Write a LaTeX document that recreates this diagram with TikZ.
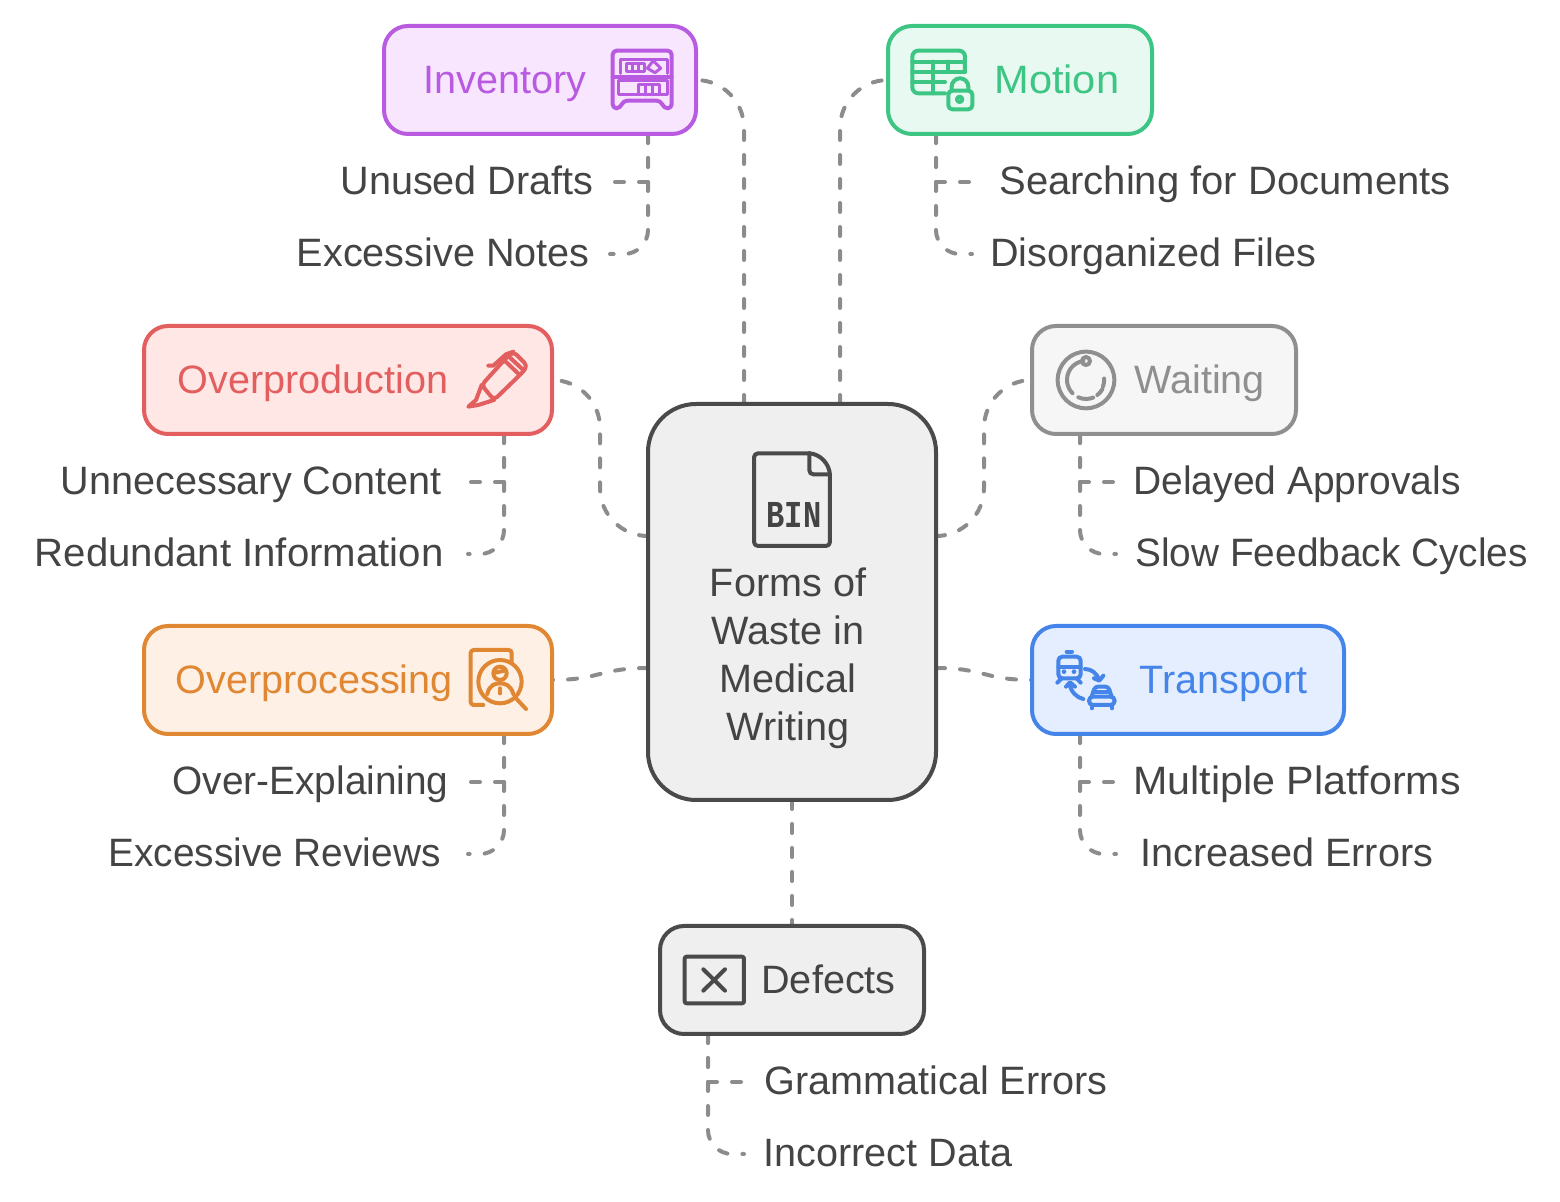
\documentclass[tikz,border=0pt]{standalone}
\usepackage{fontspec}
\setmainfont{Liberation Sans}
\setmonofont{Liberation Mono}
\usetikzlibrary{backgrounds}
\definecolor{inkGrey}{HTML}{444444}
\definecolor{connGrey}{HTML}{8C8C8C}
\definecolor{invLine}{HTML}{B95BE0}
\definecolor{invFill}{HTML}{F7E6FE}
\definecolor{motLine}{HTML}{3CC583}
\definecolor{motFill}{HTML}{E7F9F1}
\definecolor{ovpLine}{HTML}{E35F5F}
\definecolor{ovpFill}{HTML}{FEE7E4}
\definecolor{waiLine}{HTML}{8F8F8F}
\definecolor{waiFill}{HTML}{F6F6F6}
\definecolor{ovcLine}{HTML}{E08733}
\definecolor{ovcFill}{HTML}{FEF0E4}
\definecolor{traLine}{HTML}{4584E8}
\definecolor{traFill}{HTML}{E4EEFE}
\definecolor{defLine}{HTML}{4A4A4A}
\definecolor{defFill}{HTML}{EFEFEF}
\tikzset{
    box/.style={draw=#1Line, fill=#1Fill, line width=2pt, rounded corners=12pt, minimum height=54pt, outer sep=0pt, inner sep=0pt},
    boxtext/.style={font=\fontsize{19.8pt}{24pt}\selectfont, inner sep=0pt, text=#1},
    subtext/.style={font=\fontsize{19.8pt}{24pt}\selectfont, inner sep=0pt, text=inkGrey},
    conn/.style={draw=connGrey, line width=2pt, line cap=round, dash pattern=on 4.5pt off 7.5pt},
    icon/.style={draw=#1Line, line width=2pt, line cap=round, line join=round}
}

\begin{document}
\begin{tikzpicture}[x=.5pt, y=-.5pt]
    \useasboundingbox (0, 0) rectangle (1560, 1202);

    % hub and the seven boxes
    \node[box=def, rounded corners=24pt, minimum width=144pt, minimum height=198pt] (hub) at (792, 602) {};
    \node[box=inv, minimum width=156pt] (inventory) at (540, 80) {};
    \node[box=mot, minimum width=132pt] (motion) at (1020, 80) {};
    \node[box=ovp, minimum width=204pt] (overproduction) at (348, 380) {};
    \node[box=wai, minimum width=132pt] (waiting) at (1164, 380) {};
    \node[box=ovc, minimum width=204pt] (overprocessing) at (348, 680) {};
    \node[box=tra, minimum width=156pt] (transport) at (1188, 680) {};
    \node[box=def, minimum width=132pt] (defects) at (792, 980) {};

    % box titles
    \node[boxtext=invLine, anchor=base west] (inventoryText) at (423, 94) {Inventory};
    \node[boxtext=motLine, anchor=base west, xscale=1.05] (motionText) at (994, 94) {Motion};
    \node[boxtext=ovpLine, anchor=base west] (overproductionText) at (177, 394) {Overproduction};
    \node[boxtext=waiLine, anchor=base west] (waitingText) at (1134, 394) {Waiting};
    \node[boxtext=ovcLine, anchor=base west] (overprocessingText) at (175, 694) {Overprocessing};
    \node[boxtext=traLine, anchor=base west] (transportText) at (1139, 694) {Transport};
    \node[boxtext=inkGrey, anchor=base west] (defectsText) at (761, 994) {Defects};
    \node[boxtext=inkGrey, align=center] (hubText) at (788, 658) {Forms of\\Waste in\\Medical\\Writing};

    % items under each box
    \node[subtext, anchor=base east] (unused) at (594, 195) {Unused Drafts};
    \node[subtext, anchor=base east] (notes) at (590, 267) {Excessive Notes};
    \node[subtext, anchor=base west, xscale=1.01] (searching) at (999, 195) {Searching for Documents};
    \node[subtext, anchor=base west] (files) at (990, 267) {Disorganized Files};
    \node[subtext, anchor=base east] (content) at (442, 495) {Unnecessary Content};
    \node[subtext, anchor=base east, xscale=1.015] (information) at (444, 567) {Redundant Information};
    \node[subtext, anchor=base west, xscale=.985] (approvals) at (1133, 495) {Delayed Approvals};
    \node[subtext, anchor=base west, xscale=.98] (feedback) at (1135, 567) {Slow Feedback Cycles};
    \node[subtext, anchor=base east, xscale=.98] (explaining) at (449, 795) {Over-Explaining};
    \node[subtext, anchor=base east, xscale=.98] (reviews) at (441, 867) {Excessive Reviews};
    \node[subtext, anchor=base west, xscale=1.04] (platforms) at (1133, 795) {Multiple Platforms};
    \node[subtext, anchor=base west] (errors) at (1140, 867) {Increased Errors};
    \node[subtext, anchor=base west] (grammar) at (764, 1095) {Grammatical Errors};
    \node[subtext, anchor=base west] (data) at (763, 1167) {Incorrect Data};

    % points where the dashed lines meet the boxes
    \coordinate (hubA) at (744, 404);
    \coordinate (hubB) at (840, 404);
    \coordinate (hubC) at (648, 536);
    \coordinate (hubD) at (936, 536);
    \coordinate (hubE) at (648, 668);
    \coordinate (hubF) at (936, 668);
    \coordinate (invDrop) at (648, 134);
    \coordinate (motDrop) at (936, 134);
    \coordinate (ovpDrop) at (504, 434);
    \coordinate (waiDrop) at (1080, 434);
    \coordinate (ovcDrop) at (504, 734);
    \coordinate (traDrop) at (1080, 734);
    \coordinate (defDrop) at (708, 1034);
    \coordinate (unusedEnd) at (612, 182);
    \coordinate (notesEnd) at (610, 254);
    \coordinate (searchingEnd) at (972, 182);
    \coordinate (filesEnd) at (972, 254);
    \coordinate (contentEnd) at (468, 482);
    \coordinate (informationEnd) at (468, 554);
    \coordinate (approvalsEnd) at (1116, 482);
    \coordinate (feedbackEnd) at (1116, 554);
    \coordinate (explainingEnd) at (468, 782);
    \coordinate (reviewsEnd) at (468, 854);
    \coordinate (platformsEnd) at (1116, 782);
    \coordinate (errorsEnd) at (1116, 854);
    \coordinate (grammarEnd) at (744, 1082);
    \coordinate (dataEnd) at (744, 1154);

    \begin{scope}[on background layer]
        \draw[conn, rounded corners=24pt](hubA) |- (inventory.east);
        \draw[conn, rounded corners=24pt](hubB) |- (motion.west);
        \draw[conn, rounded corners=24pt](hubC) -| (600, 380) -- (overproduction.east);
        \draw[conn, rounded corners=24pt](hubD) -| (984, 380) -- (waiting.west);
        \draw[conn](hubE) .. controls (600, 668) and (600, 680) .. (overprocessing.east);
        \draw[conn](hubF) .. controls (984, 668) and (984, 680) .. (transport.west);
        \draw[conn](hub.south) -- (defects.north);

        \draw[conn](invDrop) |- (unusedEnd);
        \draw[conn, rounded corners=12pt](invDrop) |- (notesEnd);
        \draw[conn](motDrop) |- (searchingEnd);
        \draw[conn, rounded corners=12pt](motDrop) |- (filesEnd);
        \draw[conn](ovpDrop) |- (contentEnd);
        \draw[conn, rounded corners=12pt](ovpDrop) |- (informationEnd);
        \draw[conn](waiDrop) |- (approvalsEnd);
        \draw[conn, rounded corners=12pt](waiDrop) |- (feedbackEnd);
        \draw[conn](ovcDrop) |- (explainingEnd);
        \draw[conn, rounded corners=12pt](ovcDrop) |- (reviewsEnd);
        \draw[conn](traDrop) |- (platformsEnd);
        \draw[conn, rounded corners=12pt](traDrop) |- (errorsEnd);
        \draw[conn](defDrop) |- (grammarEnd);
        \draw[conn, rounded corners=12pt](defDrop) |- (dataEnd);
    \end{scope}

    % bookshelf
    \begin{scope}[shift={(590, 30)}, scale=.3333, icon=inv]
        \draw[rounded corners=2pt](68, 235) -- (68, 62) -- (245, 62) -- (245, 235) -- (222, 235) -- (212, 212) -- (100, 212) -- (90, 235) -- cycle;
        \draw[line width=1.5pt](92, 130) -- (92, 90) -- (232, 90) -- (232, 130);
        \draw(68, 140) -- (245, 140);
        \draw[line width=1.5pt](85, 152) rectangle (232, 195);
        \draw[line width=1.5pt](108, 100) rectangle (165, 125);
        \draw[line width=1.5pt](128, 100) -- (128, 125);
        \draw[line width=1.5pt](147, 100) -- (147, 125);
        \draw[line width=1.5pt](172, 115) -- (190, 92) -- (212, 115) -- (195, 128) -- cycle;
        \draw[line width=1.5pt](145, 165) rectangle (210, 195);
        \draw[line width=1.5pt](167, 165) -- (167, 195);
        \draw[line width=1.5pt](188, 165) -- (188, 195);
    \end{scope}

    % table with a lock
    \begin{scope}[shift={(895, 30)}, scale=.3333, icon=mot]
        \draw[rounded corners=3pt](150, 190) -- (52, 190) -- (52, 62) -- (210, 62) -- (210, 125);
        \draw(52, 95) -- (210, 95);
        \draw(52, 125) -- (210, 125);
        \draw(52, 157) -- (150, 157);
        \draw(115, 95) -- (115, 190);
        \draw(160, 95) -- (160, 125);
        \draw[rounded corners=2pt](160, 182) rectangle (232, 238);
        \draw(170, 182) -- (170, 170) arc (180:360:25) -- (220, 182);
        \draw(194, 208) circle (8);
    \end{scope}

    % marker pen
    \begin{scope}[shift={(450, 335)}, scale=.3333, icon=ovp]
        \draw[rounded corners=2pt](95, 150) -- (172, 65) -- (190, 50) -- (232, 92) -- (218, 112) -- (132, 195) -- cycle;
        \draw(165, 78) -- (207, 118);
        \draw(178, 66) -- (220, 105);
        \draw(115, 92) -- (130, 92) -- (168, 58) -- (190, 50);
        \draw(95, 150) -- (78, 195) -- (55, 215) -- (85, 210) -- (132, 195);
    \end{scope}

    % clock ring
    \begin{scope}[shift={(1040, 335)}, scale=.3333, icon=wai]
        \draw(138, 135) circle (85);
        \draw(138, 78) circle (12);
        \draw(130, 78) arc (262:135:57);
        \draw(115, 187) arc (114:68:57);
        \draw(172, 180) arc (53:30:57);
        \draw(189, 155) arc (20:-5:57);
    \end{scope}

    % document under a magnifier
    \begin{scope}[shift={(450, 635)}, scale=.3333, icon=ovc]
        \draw[rounded corners=1.5pt](100, 210) -- (62, 210) -- (62, 45) -- (185, 45) -- (185, 80);
        \draw(150, 140) circle (65);
        \draw(198, 190) -- (228, 222);
        \draw(150, 115) circle (20);
        \draw(136, 113) -- (163, 107);
        \draw(112, 177) .. controls (118, 150) and (135, 145) .. (150, 145) .. controls (165, 145) and (182, 150) .. (190, 177);
        \draw(150, 160) -- (150, 175);
    \end{scope}

    % train and car
    \begin{scope}[shift={(1040, 635)}, scale=.3333, icon=tra]
        \draw(80, 50) -- (96, 50);
        \draw[rounded corners=2pt](55, 130) -- (55, 65) -- (122, 65) -- (122, 130) -- cycle;
        \draw(55, 95) -- (122, 95);
        \fill[traLine](72, 110) circle (7);
        \fill[traLine](102, 110) circle (7);
        \draw(65, 130) -- (52, 143);
        \draw(110, 130) -- (122, 143);
        \draw(135, 102) .. controls (155, 102) and (170, 115) .. (178, 135);
        \draw(190, 122) -- (178, 137) -- (162, 130);
        \draw(130, 192) .. controls (110, 188) and (92, 170) .. (88, 145);
        \draw(78, 155) -- (90, 142) -- (105, 155);
        \draw[rounded corners=1.5pt](155, 185) -- (165, 155) -- (205, 155) -- (215, 185);
        \draw[rounded corners=2pt](147, 185) rectangle (224, 210);
        \draw(160, 172) -- (210, 172);
        \draw(155, 210) -- (155, 220);
        \draw(216, 210) -- (216, 220);
    \end{scope}

    % binary file
    \begin{scope}[shift={(740, 440)}, scale=.3333, icon=def]
        \draw[rounded corners=2pt](208, 40) -- (42, 40) -- (42, 318) -- (270, 318) -- (270, 105);
        \draw(208, 40) .. controls (240, 42) and (268, 70) .. (270, 105);
        \draw[rounded corners=2pt](208, 40) -- (208, 103) -- (270, 103);
    \end{scope}
    \node[inner sep=0pt, text=inkGrey, xscale=.8, font=\fontsize{19pt}{24pt}\selectfont\ttfamily\bfseries] (binText) at (794, 515) {BIN};

    % crossed box
    \begin{scope}[shift={(670, 940)}, scale=.3333, icon=def]
        \draw[rounded corners=1pt](44, 50) rectangle (222, 190);
        \draw(100, 88) -- (165, 152);
        \draw(165, 88) -- (100, 152);
    \end{scope}
\end{tikzpicture}
\end{document}
